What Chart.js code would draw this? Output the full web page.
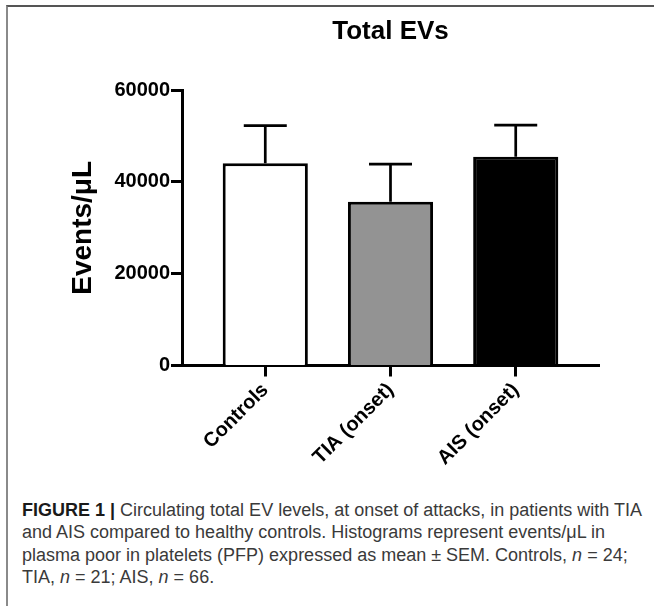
<!DOCTYPE html>
<html>
<head>
<meta charset="utf-8">
<script src="https://cdn.jsdelivr.net/npm/chart.js@4.4.1/dist/chart.umd.min.js"></script>
<style>
  html, body { margin: 0; padding: 0; background: #fff; }
  body { width: 654px; height: 606px; position: relative; overflow: hidden; }
  #frame {
    position: absolute; left: 6px; top: 5px; width: 700px; height: 640px;
    border-top: 2px solid #555; border-left: 2px solid #8a8a8a;
  }
  #myChart { position: absolute; left: 0; top: 0; }
  #caption {
    position: absolute; left: 22px; top: 499px;
    font-family: "Liberation Sans", Arial, sans-serif; font-size: 18px;
    line-height: 22.3px; color: #3a3a3a; white-space: nowrap;
  }
  #caption b { color: #1a1a1a; }
</style>
</head>
<body>
<div id="frame"></div>
<canvas id="myChart" width="654" height="470"></canvas>
<div id="caption">
<b>FIGURE 1 |</b> Circulating total EV levels, at onset of attacks, in patients with TIA<br>
and AIS compared to healthy controls. Histograms represent events/μL in<br>
plasma poor in platelets (PFP) expressed as mean ± SEM. Controls, <i>n</i> = 24;<br>
TIA, <i>n</i> = 21; AIS, <i>n</i> = 66.
</div>

<script>
// data
var categories = ["Controls", "TIA (onset)", "AIS (onset)"];
var means = [44100, 35700, 45500];
var sem = [8200, 8200, 6900];
var yTicks = [0, 20000, 40000, 60000];
var barColors = ["#ffffff", "#939393", "#000000"];

var font = '"Liberation Sans", Arial, Helvetica, sans-serif';

// upper error bars only, like the Prism plot
var errorBars = {
  id: 'errorBars',
  afterDatasetsDraw: function(chart) {
    var ctx = chart.ctx;
    var yScale = chart.scales.y;
    var meta = chart.getDatasetMeta(0);
    ctx.save();
    ctx.strokeStyle = '#000';
    ctx.lineWidth = 2.7;
    meta.data.forEach(function(bar, i) {
      var top = yScale.getPixelForValue(means[i] + sem[i]);
      ctx.beginPath();
      ctx.moveTo(bar.x, bar.y);
      ctx.lineTo(bar.x, top);
      ctx.moveTo(bar.x - 21.5, top);
      ctx.lineTo(bar.x + 21.5, top);
      ctx.stroke();
    });
    ctx.restore();
  }
};

var ctx = document.getElementById('myChart').getContext('2d');
var chart = new Chart(ctx, {
  type: 'bar',
  data: {
    datasets: [{
      data: categories.map(function(c, i) { return {x: i, y: means[i]}; }),
      backgroundColor: barColors,
      borderColor: '#000',
      borderWidth: 3,
      borderSkipped: 'start',
      barPercentage: 0.68,
      categoryPercentage: 1
    }]
  },
  options: {
    responsive: false,
    animation: false,
    devicePixelRatio: 1,
    layout: { padding: { left: 0, right: 55, top: 0, bottom: 0 } },
    plugins: {
      legend: { display: false },
      tooltip: { enabled: false },
      title: {
        display: true,
        text: 'Total EVs',
        fullSize: false,
        color: '#000',
        font: { family: font, size: 26, weight: 'bold' },
        padding: { top: 16, bottom: 43 }
      }
    },
    scales: {
      x: {
        type: 'linear',
        offset: false,
        min: -0.665,
        max: 2.665,
        afterBuildTicks: function(s) {
          s.ticks = categories.map(function(c, i) { return {value: i}; });
        },
        afterFit: function(s) { s.height = 104.5; },
        grid: { offset: false, drawOnChartArea: false, drawTicks: true, tickLength: 11, tickWidth: 3, tickColor: '#000' },
        border: { display: true, width: 3, color: '#000' },
        ticks: {
          minRotation: 45,
          maxRotation: 45,
          padding: 2,
          color: '#000',
          font: { family: font, size: 20, weight: 'bold' },
          callback: function(v) { return categories[v]; }
        }
      },
      y: {
        min: 0,
        max: 60000,
        afterBuildTicks: function(s) {
          s.ticks = yTicks.map(function(v) { return {value: v}; });
        },
        afterFit: function(s) { s.width = 182; },
        grid: { drawOnChartArea: false, drawTicks: true, tickLength: 11, tickWidth: 3, tickColor: '#000' },
        border: { display: true, width: 3, color: '#000' },
        ticks: {
          padding: 1,
          color: '#000',
          font: { family: font, size: 20, weight: 'bold' },
          callback: function(v) { return String(v); }
        },
        title: {
          display: true,
          text: 'Events/μL',
          color: '#000',
          font: { family: font, size: 28, weight: 'bold' },
          padding: { top: 66, bottom: 0 }
        }
      }
    }
  },
  plugins: [errorBars]
});
</script>
</body>
</html>
